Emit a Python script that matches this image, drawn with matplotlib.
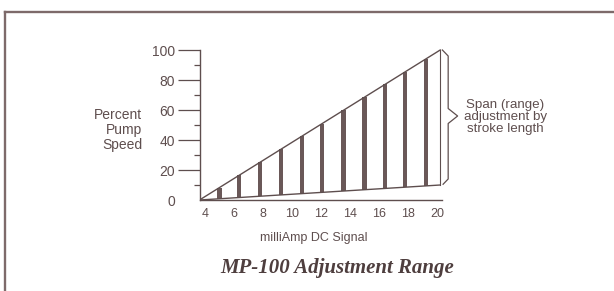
import matplotlib
matplotlib.use("Agg")
import matplotlib.pyplot as plt
from matplotlib.lines import Line2D

# signal range (mA) and span limits (% pump speed)
signal_ends = [3.6, 20.2]
span_max = [0, 100]
span_min = [0, 10]

# shading bars inside the span wedge
bar_x = [4.97, 6.34, 7.79, 9.24, 10.69, 12.07, 13.52, 14.97, 16.41, 17.79, 19.24]
bar_top = [8.1, 16.4, 25.2, 33.9, 42.6, 50.9, 59.7, 68.4, 77.1, 85.4, 94.2]
bar_bottom = [0.8, 1.6, 2.5, 3.4, 4.3, 5.1, 6.0, 6.8, 7.7, 8.5, 9.4]

x_ticks = [4, 6, 8, 10, 12, 14, 16, 18, 20]
y_ticks = [0, 20, 40, 60, 80, 100]
y_minor = [10, 30, 50, 70, 90]

ink = '#5e4e4e'
bar_col = '#6a5858'
plt.rcParams['font.family'] = ['Liberation Sans', 'DejaVu Sans']

fig = plt.figure(figsize=(6.14, 2.91), dpi=100)
ax = fig.add_axes([199.5 / 614, 91 / 291, 246.5 / 614, 156 / 291])
ax.set_xlim(3.6, 20.6)
ax.set_ylim(0, 104)

# wedge outline
ax.plot(signal_ends, span_max, color=ink, lw=1.0)
ax.plot(signal_ends, span_min, color=ink, lw=1.0)
ax.plot([signal_ends[1], signal_ends[1]], [span_min[1], span_max[1]], color=ink, lw=0.8)

heights = [t - b for t, b in zip(bar_top, bar_bottom)]
ax.bar(bar_x, heights, bottom=bar_bottom, width=0.3, color=bar_col, linewidth=0)

# spines
for s in ['top', 'right']:
    ax.spines[s].set_visible(False)
ax.spines['left'].set_bounds(0, 100)
ax.spines['bottom'].set_bounds(signal_ends[0], signal_ends[1] + 0.15)
for s in ['left', 'bottom']:
    ax.spines[s].set_color(ink)
    ax.spines[s].set_linewidth(1.0)

ax.set_yticks(y_ticks)
ax.set_yticks(y_minor, minor=True)
ax.tick_params(axis='y', which='major', length=16, width=0.9, pad=1.5,
               labelsize=10, colors=ink)
ax.tick_params(axis='y', which='minor', length=4.5, width=0.9, colors=ink)
ax.yaxis.get_major_ticks()[0].tick1line.set_visible(False)

ax.set_xticks(x_ticks)
ax.tick_params(axis='x', length=0, pad=6, labelsize=9, colors=ink)

ax.set_xlabel('milliAmp DC Signal', fontsize=9, color=ink)
ax.xaxis.set_label_coords(0.4645, -0.244)
ax.xaxis.label.set_verticalalignment('center')

ax.set_ylabel('Percent\nPump\nSpeed', fontsize=10, color=ink, rotation=0,
              ha='right', va='center', multialignment='right', linespacing=1.05)
ax.yaxis.set_label_coords(-0.233, 0.449)

# curly bracket for the span
bx0, bx1, bx2 = 20.35, 20.75, 21.4
ymid = 56
ax.plot([bx0, bx1, bx1, bx2, bx1, bx1, bx0 + 0.05],
        [100, 96, ymid + 5, ymid, ymid - 5, 14, 10.5],
        color=ink, lw=0.9, clip_on=False)
ax.text(24.7, ymid - 0.5, 'Span (range)\nadjustment by\nstroke length', fontsize=9.6,
        color=ink, ha='center', va='center', linespacing=1.0)

# frame lines
fig.add_artist(Line2D([4.5 / 614, 1], [1 - 12 / 291, 1 - 12 / 291],
                      color='#7d6a6a', lw=1.7, transform=fig.transFigure))
fig.add_artist(Line2D([4.5 / 614, 4.5 / 614], [0, 1 - 12 / 291],
                      color='#7d6a6a', lw=1.7, transform=fig.transFigure))

fig.text(337.5 / 614, 1 - 268 / 291, 'MP-100 Adjustment Range',
         family=['Liberation Serif', 'DejaVu Serif'], style='italic', weight='bold',
         fontsize=15, color='#4e3e3e', ha='center', va='center')

fig.savefig('out.png', dpi=100)
